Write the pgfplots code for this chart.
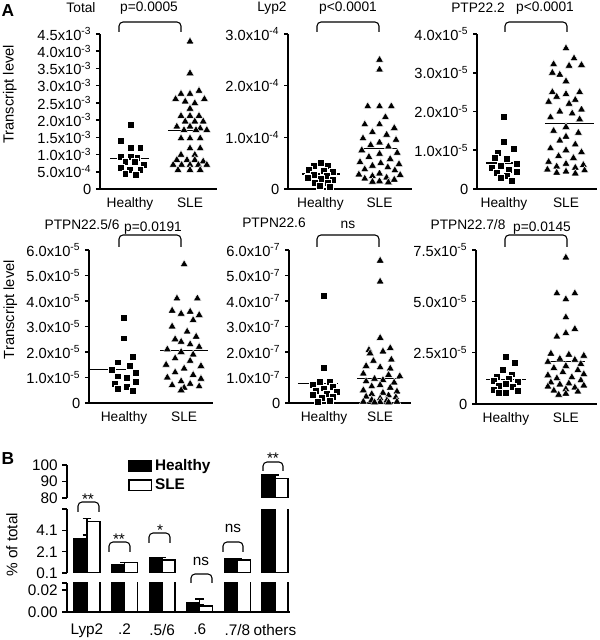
\documentclass[border=0pt]{standalone}
\usepackage{fontspec}
\setmainfont{Liberation Sans}
\usepackage{pgfplots}
\usepackage{pgfplotstable}
\pgfplotsset{compat=1.18}
\newcommand{\sci}[2]{#1x10\textsuperscript{#2}}
\newcommand{\fA}{\fontsize{10.3pt}{12pt}\selectfont}
\newcommand{\fT}{\fontsize{11pt}{13pt}\selectfont}
\newcommand{\fB}{\fontsize{11.5pt}{13pt}\selectfont}
\newcommand{\brk}[4]{\draw[line width=0.8pt, rounded corners=3pt] (#1,#4) -- (#1,#3) -- (#2,#3) -- (#2,#4);}

\pgfplotstableread{
x h he s se
1 3.36 0.31 4.92 0.31
2 0.85 0.0 1.10 0.0
3 1.54 0.0 1.32 0.0
4 0.0085 0.0033 0.0055 0.0009
5 1.41 0.0 1.32 0.0
6 93.9 0.0 91.9 0.0
}\pct

\pgfplotsset{
 /pgf/number format/assume math mode=true,
 scat/.style={scale only axis, anchor=south west, axis lines*=left,
   axis line style={line width=1.2pt}, ymin=0,
   xtick={1,2}, xticklabels={Healthy,SLE}, xtick style={draw=none},
   ytick style={line width=1.2pt, black}, tick align=outside, major tick length=3pt,
   xticklabel style={font=\fA}, yticklabel style={font=\fT},
   ylabel style={font=\fT, anchor=center},
   clip=false},
 hpt/.style={only marks, mark=square*, mark size=2.6pt, mark options={fill=black, draw=white, line width=0.3pt}},
 spt/.style={only marks, mark=triangle*, mark size=3.4pt, mark options={fill=black, draw=white, line width=0.3pt}},
 mline/.style={black, line width=0.9pt, mark=none},
 bseg/.style={scale only axis, anchor=south west, width=167.25pt,
   xmin=0.47, xmax=6.4, axis line style={line width=1.2pt},
   ytick style={line width=1.2pt, black}, tick align=outside, major tick length=3.5pt,
   xtick style={draw=none}, ticklabel style={font=\fB}, scaled y ticks=false},
 bh/.style={ybar, bar width=0.345, bar shift=-0.1725, fill=black, draw=black, line width=1pt,
   error bars/y dir=plus, error bars/y explicit,
   error bars/error bar style={line width=1pt},
   error bars/error mark options={rotate=90, mark size=3.2pt, line width=1pt}},
 bs/.style={ybar, bar width=0.345, bar shift=0.1725, fill=white, draw=black, line width=1pt,
   error bars/y dir=plus, error bars/y explicit,
   error bars/error bar style={line width=1pt},
   error bars/error mark options={rotate=90, mark size=3.2pt, line width=1pt}},
}

\begin{document}
\begin{tikzpicture}
\useasboundingbox (0,0) rectangle (450pt,480pt);

% ---------- Row 1 ----------
\begin{axis}[scat, at={(75pt,338.25pt)}, width=87.75pt, height=116.25pt,
  xmin=0.5, xmax=2.45, ymax=4.5, ytick={0,0.5,1,1.5,2,2.5,3,3.5,4,4.5},
  yticklabels={0,\sci{5.0}{-4},\sci{1.0}{-3},\sci{1.5}{-3},\sci{2.0}{-3},\sci{2.5}{-3},\sci{3.0}{-3},\sci{3.5}{-3},\sci{4.0}{-3},\sci{4.5}{-3}},
  ylabel={Transcript level}, ylabel style={at={(axis description cs:-0.77,0.61)}}]
\addplot[hpt] coordinates {(1.01,1.88) (0.84,1.40) (1.01,1.19) (1.17,1.20) (0.84,0.93) (1.01,0.95) (1.12,0.90) (0.92,0.80) (1.08,0.78) (1.23,0.70) (0.84,0.62) (1.0,0.55) (1.17,0.55) (0.92,0.45) (1.1,0.42)};
\addplot[spt] coordinates {(2,4.28) (2,3.36) (2.15,2.85) (1.85,2.76) (2,2.76) (1.76,2.61) (2.24,2.61) (1.92,2.54) (2.08,2.49) (2,2.33) (1.85,2.12) (2,2.12) (2.15,2.12) (1.92,1.96) (2.08,1.96) (2.22,1.96) (1.78,1.81) (2,1.81) (2.17,1.76) (1.9,1.71) (2.1,1.71) (2.28,1.71) (1.85,1.47) (2,1.47) (2.17,1.47) (2,1.18) (2.17,1.18) (1.85,0.99) (2.08,0.99) (1.78,0.84) (1.95,0.84) (2.08,0.84) (2.22,0.80) (1.72,0.70) (1.86,0.70) (2,0.70) (2.14,0.70) (2.28,0.70) (1.8,0.55) (2,0.55) (2.17,0.55)};
\addplot[mline] coordinates {(0.667,0.88) (1.317,0.88)};
\addplot[mline] coordinates {(1.63,1.69) (2.33,1.69)};
\end{axis}

\begin{axis}[scat, at={(216pt,338.25pt)}, width=93pt, height=116.25pt,
  xmin=0.45, xmax=2.55, ymax=3, ytick={0,1,2,3},
  yticklabels={0,\sci{1.0}{-4},\sci{2.0}{-4},\sci{3.0}{-4}}]
\addplot[hpt] coordinates {(1,0.50) (0.88,0.45) (1.12,0.45) (0.8,0.38) (1.05,0.35) (1.2,0.33) (0.88,0.28) (1.1,0.26) (0.78,0.22) (1,0.20) (1.2,0.18) (0.9,0.13) (1.12,0.12) (0.98,0.06) (1.15,0.05)};
\addplot[spt] coordinates {(2,2.50) (2,2.31) (1.8,1.60) (2,1.60) (2.2,1.60) (2.1,1.39) (1.75,1.25) (2,1.25) (2.25,1.18) (1.88,1.10) (2.12,1.05) (1.72,0.98) (2.28,0.95) (2,0.90) (1.85,0.85) (2.15,0.82) (1.7,0.75) (2.3,0.70) (2,0.68) (1.82,0.62) (2.18,0.58) (1.67,0.52) (2.02,0.50) (2.33,0.48) (1.88,0.45) (2.14,0.42) (1.75,0.38) (2.26,0.36) (2,0.30) (1.65,0.28) (2.35,0.27) (1.88,0.25) (2.12,0.22) (1.75,0.20) (2.25,0.18) (2,0.15) (1.88,0.14) (2.15,0.13)};
\addplot[mline] coordinates {(0.687,0.29) (1.33,0.29)};
\addplot[mline] coordinates {(1.67,0.79) (2.3,0.79)};
\end{axis}

\begin{axis}[scat, at={(357.75pt,338.25pt)}, width=90pt, height=116.25pt,
  xmin=0.565, xmax=2.5, ymax=4, ytick={0,1,2,3,4},
  yticklabels={0,\sci{1.0}{-5},\sci{2.0}{-5},\sci{3.0}{-5},\sci{4.0}{-5}}]
\addplot[hpt] coordinates {(1,1.87) (1,1.23) (1.15,1.05) (0.9,0.93) (0.85,0.80) (1.05,0.78) (1.2,0.65) (0.95,0.60) (0.8,0.55) (1.08,0.50) (1.2,0.45) (0.88,0.42) (1.05,0.35) (0.95,0.28) (1.12,0.22)};
\addplot[spt] coordinates {(2,3.63) (2.13,3.37) (1.8,3.22) (2.25,3.20) (2.05,3.18) (1.78,3.00) (1.9,2.95) (2,2.78) (1.78,2.50) (2.22,2.50) (2,2.45) (1.85,2.38) (2.15,2.30) (1.72,2.25) (2.05,2.20) (2.25,2.05) (1.9,2.00) (2.1,1.95) (1.75,1.85) (2.22,1.80) (2,1.60) (1.8,1.50) (2.2,1.45) (2,1.35) (1.9,1.25) (2.15,1.15) (1.75,1.05) (2,1.00) (2.25,0.95) (1.88,0.85) (2.12,0.80) (1.72,0.70) (2,0.65) (2.28,0.62) (1.85,0.58) (2.15,0.55) (1.7,0.50) (2.3,0.48) (2,0.45) (1.85,0.42) (2.15,0.40)};
\addplot[mline] coordinates {(0.71,0.67) (1.21,0.67)};
\addplot[mline] coordinates {(1.66,1.68) (2.45,1.68)};
\end{axis}

% ---------- Row 2 ----------
\begin{axis}[scat, at={(66.75pt,177.75pt)}, width=93pt, height=114.75pt,
  xmin=0.417, xmax=2.48, ymax=6, ytick={0,1,2,3,4,5,6},
  yticklabels={0,\sci{1.0}{-5},\sci{2.0}{-5},\sci{3.0}{-5},\sci{4.0}{-5},\sci{5.0}{-5},\sci{6.0}{-5}},
  ylabel={Transcript level}, ylabel style={at={(axis description cs:-0.635,0.61)}}]
\addplot[hpt] coordinates {(1,3.35) (1,2.54) (1.15,1.83) (0.9,1.60) (1.1,1.45) (0.8,1.30) (1.2,1.20) (0.9,1.05) (1.05,1.00) (1.2,0.85) (0.85,0.75) (1.05,0.65) (0.9,0.55) (1.15,0.50)};
\addplot[spt] coordinates {(2,5.44) (1.88,4.10) (2.22,4.10) (1.8,3.62) (2.1,3.58) (1.95,3.50) (2.25,3.45) (2.15,3.25) (1.8,3.00) (2.05,2.80) (2.2,2.60) (1.85,2.50) (1.95,2.40) (2.1,2.30) (2.25,2.20) (1.72,2.10) (1.95,2.00) (2.15,1.90) (1.85,1.75) (2.1,1.65) (1.7,1.50) (2.28,1.45) (2,1.35) (1.85,1.20) (2.15,1.10) (1.72,1.00) (2.28,0.95) (1.95,0.85) (2.1,0.75) (1.8,0.70) (2.25,0.65) (2,0.60) (1.95,0.50)};
\addplot[mline] coordinates {(0.43,1.30) (1.13,1.30)};
\addplot[mline] coordinates {(1.6,2.05) (2.4,2.05)};
\end{axis}

\begin{axis}[scat, at={(216.75pt,177.75pt)}, width=91.5pt, height=114.75pt,
  xmin=0.375, xmax=2.55, ymax=6, ytick={0,1,2,3,4,5,6},
  yticklabels={0,\sci{1.0}{-7},\sci{2.0}{-7},\sci{3.0}{-7},\sci{4.0}{-7},\sci{5.0}{-7},\sci{6.0}{-7}}]
\addplot[hpt] coordinates {(1,4.20) (1,1.37) (0.92,0.85) (1.1,0.82) (0.8,0.72) (1.15,0.65) (1,0.58) (0.85,0.50) (1.22,0.45) (1.05,0.38) (0.8,0.32) (1.15,0.25) (0.95,0.20) (1.1,0.10) (0.88,0.05)};
\addplot[spt] coordinates {(2,5.58) (2,4.76) (2,2.55) (2.18,2.15) (1.8,2.08) (2.05,2.02) (1.82,1.95) (2.2,1.70) (1.88,1.65) (1.75,1.45) (2,1.40) (2.18,1.35) (1.7,1.15) (2.15,1.10) (2.35,1.05) (1.9,0.95) (2.05,0.90) (1.75,0.85) (2.25,0.80) (2,0.70) (1.85,0.65) (2.18,0.60) (1.7,0.50) (2.3,0.45) (2.05,0.40) (1.85,0.35) (2.15,0.30) (1.75,0.25) (2.28,0.22) (2,0.18) (1.85,0.12) (2.12,0.10) (1.7,0.05) (2.3,0.05) (2,0.04) (1.9,0.03) (2.15,0.03)};
\addplot[mline] coordinates {(0.535,0.78) (1.25,0.78)};
\addplot[mline] coordinates {(1.59,0.95) (2.36,0.95)};
\end{axis}

\begin{axis}[scat, at={(357pt,177pt)}, width=90.75pt, height=115.5pt,
  xmin=0.5, xmax=2.52, ymax=7.5, ytick={0,2.5,5,7.5},
  yticklabels={0,\sci{2.5}{-5},\sci{5.0}{-5},\sci{7.5}{-5}}]
\addplot[hpt] coordinates {(1,2.30) (1.15,2.03) (0.95,1.65) (1.1,1.45) (0.85,1.35) (1.05,1.25) (0.8,1.15) (1.2,1.10) (1,1.00) (0.88,0.90) (1.12,0.82) (0.8,0.70) (1.2,0.65) (1,0.55) (0.88,0.55)};
\addplot[spt] coordinates {(2,7.13) (1.85,5.39) (2.15,5.39) (2,5.10) (2,4.22) (2.15,3.65) (2,3.45) (1.85,3.28) (1.75,2.45) (2.05,2.40) (2.3,2.35) (1.9,2.20) (2.15,2.15) (1.7,2.05) (2.25,1.95) (2,1.85) (1.8,1.75) (2.2,1.65) (1.95,1.55) (2.3,1.45) (1.7,1.40) (2.1,1.30) (1.85,1.25) (2.25,1.15) (1.75,1.05) (2.05,1.00) (1.9,0.95) (2.3,0.90) (1.7,0.85) (2.15,0.80) (2,0.72) (1.8,0.65) (2.2,0.60) (2,0.50) (1.88,0.45)};
\addplot[mline] coordinates {(0.667,1.20) (1.33,1.20)};
\addplot[mline] coordinates {(1.68,2.06) (2.32,2.06)};
\end{axis}

% ---------- Panel B ----------
\begin{axis}[bseg, at={(50.25pt,106.5pt)}, height=24.75pt,
  ymin=80, ymax=100, ytick={80,90,100}, yticklabels={80,90,100},
  axis x line=none, axis y line*=left, xtick=\empty,
  restrict y to domain=80:101,
  legend style={at={(axis description cs:0.274,1.26)}, anchor=north west, draw=none, fill=none,
    font=\bfseries\fB, row sep=1pt, inner sep=0pt},
  legend cell align=left,
  legend image code/.code={\draw[#1, line width=1pt] (0pt,-4pt) rectangle (17pt,4pt);}]
\addplot[bh] table[x=x, y=h, y error=he] {\pct};
\addplot[bs] table[x=x, y=s, y error=se] {\pct};
\legend{Healthy, SLE}
\end{axis}

\begin{axis}[bseg, at={(50.25pt,50.25pt)}, height=48pt,
  ymin=0.1, ymax=6.1, ytick={0.1,2.1,4.1,6.1}, yticklabels={0.1,2.1,4.1,{}},
  axis x line=none, axis y line*=left, xtick=\empty,
  restrict y to domain=0.1:1000,
  ylabel={\% of total}, ylabel style={font=\fB, anchor=center, at={(axis description cs:-0.247,0.44)}}]
\addplot[bh] table[x=x, y=h, y error=he] {\pct};
\addplot[bs] table[x=x, y=s, y error=se] {\pct};
\end{axis}

\begin{axis}[bseg, at={(50.25pt,21pt)}, height=21.75pt,
  ymin=0, ymax=0.0265, ytick={0,0.02,0.0265}, yticklabels={0.00,0.02,{}},
  axis lines*=left, restrict y to domain*=0:0.03,
  xticklabel style={yshift=-2pt},
  xtick={1,2,3,4,5,6}, xticklabels={Lyp2,.2,.5/6,.6,.7/8,others}]
\addplot[bh] table[x=x, y=h, y error=he] {\pct};
\addplot[bs] table[x=x, y=s, y error=se] {\pct};
\end{axis}

% ---------- annotations (pixel coordinates, y downwards) ----------
\begin{scope}[x=0.75pt, y=-0.75pt, shift={(0pt,480pt)}]
\node[font=\bfseries\fontsize{13pt}{14pt}\selectfont] at (8,11) {A};
\node[font=\bfseries\fontsize{13pt}{14pt}\selectfont] at (8,459) {B};
% titles
\node[font=\fA] at (81,8) {Total};
\node[font=\fA] at (272,8) {Lyp2};
\node[font=\fA] at (478,8) {PTP22.2};
\node[font=\fA] at (82,225) {PTPN22.5/6};
\node[font=\fA] at (274,223) {PTPN22.6};
\node[font=\fA] at (468,225) {PTPN22.7/8};
% p values
\brk{119}{181}{22}{32}
\node[font=\fA] at (149,8) {p=0.0005};
\brk{317}{379}{22}{32}
\node[font=\fA] at (348,8) {p<0.0001};
\brk{505}{567}{22}{32}
\node[font=\fA] at (545,8) {p<0.0001};
\brk{119}{181}{235}{247}
\node[font=\fA] at (153,228) {p=0.0191};
\brk{317}{379}{235}{247}
\node[font=\fA] at (348,225) {ns};
\brk{505}{567}{235}{247}
\node[font=\fA] at (542,228) {p=0.0145};
% panel B
\brk{78}{99}{502}{512}
\node[font=\fB] at (88,499) {**};
\brk{109}{130}{542}{552}
\node[font=\fB] at (119,539) {**};
\brk{149}{170}{533}{543}
\node[font=\fB] at (160,530) {*};
\brk{191}{212}{574}{583}
\node[font=\fB] at (201,561) {ns};
\brk{223}{243}{542}{552}
\node[font=\fB] at (233,528) {ns};
\brk{263}{283}{462}{471}
\node[font=\fB] at (273,458) {**};
\end{scope}
\end{tikzpicture}
\end{document}
